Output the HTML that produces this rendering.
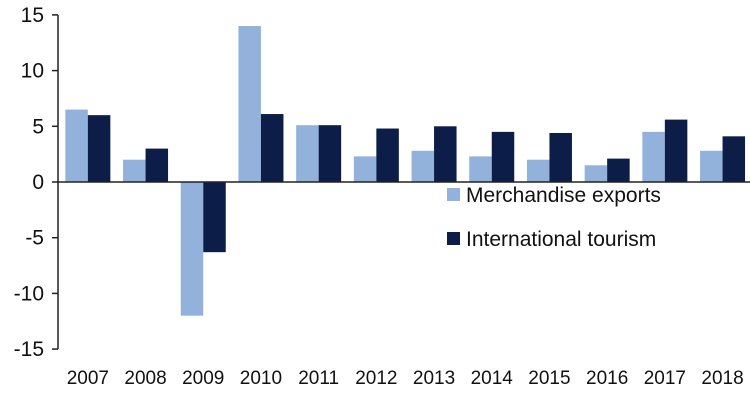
<!DOCTYPE html>
<html><head><meta charset="utf-8"><style>
html,body{margin:0;padding:0;background:#fff;}
svg{display:block;font-family:"Liberation Sans",Arial,sans-serif;}
</style></head><body>
<svg id="chart" width="750" height="410">
<g id="marks"></g>
</svg>
<script>
const categories=['2007','2008','2009','2010','2011','2012','2013','2014','2015','2016','2017','2018'];
const merchandise=[6.5,2.0,-12.0,14.0,5.1,2.3,2.8,2.3,2.0,1.5,4.5,2.8];
const tourism=[6.0,3.0,-6.3,6.1,5.1,4.8,5.0,4.5,4.4,2.1,5.6,4.1];
const yTicks=[15,10,5,0,-5,-10,-15];
const NS='http://www.w3.org/2000/svg';
const svg=document.getElementById('chart');
const g=document.getElementById('marks');
const x0=58,step=57.7,bw=22.5;
function y(v){return 182-v*11.14;}
function xc(i){return x0+step*(i+0.5)+1;}
function mk(t,a){const e=document.createElementNS(NS,t);for(const k in a)e.setAttribute(k,a[k]);g.appendChild(e);return e;}
categories.forEach((c,i)=>{
  const vals=[merchandise[i],tourism[i]],cols=['#92b2dc','#0c1d47'];
  vals.forEach((v,j)=>{
    const r=mk('rect',{x:xc(i)-bw+j*bw,y:Math.min(y(v),y(0)),width:bw,height:Math.abs(y(v)-y(0)),fill:cols[j]});
    
    
  });
  const t=mk('text',{x:xc(i),y:384,'text-anchor':'middle','font-size':19,fill:'#111'});
  t.textContent=c;
  
  
});
const ax=mk('line',{x1:x0,y1:y(15),x2:x0,y2:y(-15),stroke:'#222','stroke-width':1.5});


const zx=mk('line',{x1:x0,y1:y(0),x2:750,y2:y(0),stroke:'#222','stroke-width':1.5});


yTicks.forEach(v=>{
  mk('line',{x1:52,y1:y(v),x2:x0,y2:y(v),stroke:'#222','stroke-width':1.5});
  const t=mk('text',{x:44,y:y(v)+7,'text-anchor':'end','font-size':21,fill:'#111'});
  t.textContent=v;
  
  
});
[['Merchandise exports','#92b2dc',196],['International tourism','#0c1d47',240]].forEach(([n,c,yy])=>{
  const r=mk('rect',{x:447,y:yy-8,width:13,height:13,fill:c});
  
  
  const t=mk('text',{x:466,y:yy+6,'font-size':21,fill:'#111'});
  t.textContent=n;
  
  
});
</script>
</body></html>
